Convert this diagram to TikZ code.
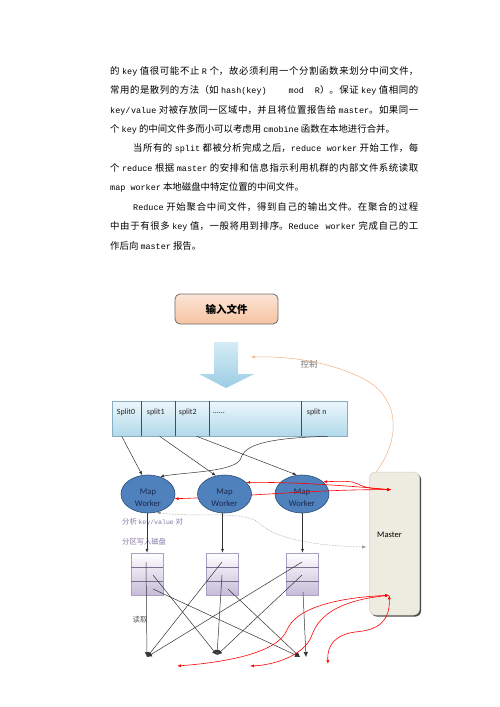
\documentclass[tikz,border=0pt]{standalone}
\usepackage{fontspec}
\setmainfont{Noto Sans CJK SC}
\newfontfamily\lmonofont{Liberation Mono}[Scale=0.9]
\newfontfamily\carl{Carlito}
\usetikzlibrary{shapes.geometric,arrows.meta,calc,shadows}
\XeTeXlinebreaklocale "zh"
\XeTeXlinebreakskip=0pt plus 1.5pt
\newcommand\lw[1]{{\lmonofont #1}}
\definecolor{inputtop}{HTML}{FCE4D5}
\definecolor{inputbot}{HTML}{F6C3A2}
\definecolor{inputborder}{HTML}{6E6E6E}
\definecolor{arrowtop}{HTML}{D6ECF6}
\definecolor{arrowbot}{HTML}{9BCDE4}
\definecolor{bartop}{HTML}{EDF7FB}
\definecolor{barbot}{HTML}{B2D9EA}
\definecolor{barborder}{HTML}{86AFC6}
\definecolor{mwfill}{HTML}{4F81BD}
\definecolor{mwborder}{HTML}{2C4D75}
\definecolor{mwtext}{HTML}{1B2A4E}
\definecolor{masterfill}{HTML}{EEECE1}
\definecolor{masterborder}{HTML}{D0CFC6}
\definecolor{stackbot}{HTML}{C6BCD9}
\definecolor{stackborder}{HTML}{A9A0C2}
\definecolor{stackdiv}{HTML}{7A7092}
\definecolor{ctrlcol}{HTML}{F4B183}
\definecolor{notepurple}{HTML}{8576A6}
\begin{document}
\begin{tikzpicture}[x=1bp,y=-1bp,
  sarrow/.style={draw=black!80, line width=0.5bp, -{Latex[length=4bp,width=3bp]}},
  rdarrow/.style={draw=black!80, line width=0.5bp, -{Latex[length=5bp,width=4.5bp]}},
  rarrow/.style={draw=red, line width=0.6bp, {Latex[length=4bp,width=3bp]}-{Latex[length=4bp,width=3bp]}},
  mwnode/.style={ellipse, draw=mwborder, line width=0.6bp, fill=mwfill, minimum width=54bp, minimum height=38bp, inner sep=0pt,
    label={[align=center, text=mwtext, font=\carl\fontsize{8.7bp}{11.5bp}\selectfont, yshift=-3.5bp]center:Map\\Worker}},
  stacknode/.style={rectangle, minimum width=32bp, minimum height=42bp, inner sep=0pt, top color=white, bottom color=stackbot, draw=stackborder, line width=0.5bp},
  stackdivline/.style={draw=stackdiv, line width=1bp},
  splitlabel/.style={anchor=west, inner sep=0pt, font=\carl\fontsize{8bp}{10bp}\selectfont, text=black!85},
  note/.style={inner sep=0pt, text=notepurple, font=\fontsize{7.3bp}{9bp}\selectfont},
  bardiv/.style={draw=black!70, line width=0.5bp}
]
\useasboundingbox (0,0) rectangle (500,707);
\fill[white] (0,0) rectangle (500,707);

% ---------- text ----------
\node[anchor=north west, inner sep=0pt, text width=308bp, align=justify,
      font=\fontsize{9.4bp}{19.45bp}\selectfont] (para) at (110,66) {%
的 \lw{key} 值很可能不止 \lw{R} 个，故必须利用一个分割函数来划分中间文件，\linebreak
常用的是散列的方法（如 \lw{hash(key)}\hspace{22bp}\lw{mod}\hspace{11bp}\lw{R}）。保证 \lw{key} 值相同的\linebreak
\lw{key/value} 对被存放同一区域中，并且将位置报告给 \lw{master}。如果同一\linebreak
个 \lw{key} 的中间文件多而小可以考虑用 \lw{cmobine} 函数在本地进行合并。\par
\hspace*{23bp}当所有的 \lw{split} 都被分析完成之后，\lw{reduce}\hspace{3bp} \lw{worker} 开始工作，每\linebreak
个 \lw{reduce} 根据 \lw{master} 的安排和信息指示利用机群的内部文件系统读取\linebreak
\lw{map worker} 本地磁盘中特定位置的中间文件。\par
\hspace*{23bp}\lw{Reduce} 开始聚合中间文件，得到自己的输出文件。在聚合的过程\linebreak
中由于有很多 \lw{key} 值，一般将用到排序。\lw{Reduce}\hspace{4bp} \lw{worker} 完成自己的工\linebreak
作后向 \lw{master} 报告。\par};

% ---------- input box and block arrow ----------
\node[rectangle, rounded corners=5bp, minimum width=103bp, minimum height=30bp, inner sep=0pt,
      top color=inputtop, bottom color=inputbot, draw=inputborder, line width=0.8bp,
      font=\bfseries\fontsize{10.5bp}{12bp}\selectfont] (input) at (226.5,309) {输入文件};
\shade[top color=arrowtop, bottom color=arrowbot]
  (214,342) -- (238,342) -- (238,374) -- (254,374) -- (226,388) -- (199,374) -- (214,374) -- cycle;

\node[inner sep=0pt, text=black!55, font=\fontsize{8.5bp}{10bp}\selectfont] (ctrl) at (309,364) {控制};

% ---------- split bar ----------
\node[rectangle, minimum width=235bp, minimum height=35bp, inner sep=0pt,
      top color=bartop, bottom color=barbot, draw=barborder, line width=0.6bp] (bar) at (229.5,418.5) {};
\foreach \dx in {30,64,98,190}
  \draw[bardiv] ($(bar.north west)+(\dx,0)$) -- ($(bar.south west)+(\dx,0)$);
\node[splitlabel] (l0) at ($(bar.north west)+(5,12)$) {Split0};
\node[splitlabel] (l1) at ($(bar.north west)+(35,12)$) {split1};
\node[splitlabel] (l2) at ($(bar.north west)+(67,12)$) {split2};
\node[splitlabel] (ld) at ($(bar.north west)+(101,12)$) {......};
\node[splitlabel] (ln) at ($(bar.north west)+(195,12)$) {split n};

% ---------- master ----------
\node[rectangle, rounded corners=6bp, minimum width=50bp, minimum height=143bp, inner sep=0pt,
      fill=masterfill, draw=masterborder, line width=0.5bp,
      drop shadow={shadow xshift=1.6bp, shadow yshift=-1.6bp, fill=black!70, opacity=1},
      label={[xshift=-5bp, yshift=8.5bp, font=\carl\fontsize{8.5bp}{10bp}\selectfont]center:Master}]
      (master) at (394.5,543.5) {};
\coordinate (mt) at ($(master.north west)+(22,18)$);
\coordinate (mb) at ($(master.south west)+(20,-20)$);

% ---------- map workers (mw2 drawn later, above red lines) ----------
\node[mwnode] (mw1) at (148,494) {};
\node[mwnode] (mw3) at (302,494) {};
\path (224.5,494) coordinate (mw2c);
\node[ellipse, minimum width=54bp, minimum height=38bp, inner sep=0pt] (mw2) at (mw2c) {};

% red lines master <-> map workers
\draw[rarrow] (mw3.30) .. controls (345,481) and (352,481) .. (358,484) .. controls (365,488) and (375,489) .. (mt);
\draw[rarrow] (mw2.28) .. controls (290,482) and (340,485) .. (mt);
\draw[rarrow] (mw1.-10) .. controls (240,497) and (320,489) .. (mt);

\node[mwnode] (mw2b) at (mw2c) {};

% control curve
\coordinate (ctrlend) at (251,357);
\draw[draw=ctrlcol, line width=0.5bp, -{Latex[length=4bp,width=3bp]}]
  ($(master.north west)+(7,0)$) .. controls (400,440) and (402,398) .. (362,378)
  .. controls (330,362) and (290,356) .. (ctrlend);

% split -> map worker arrows
\draw[sarrow] ($(bar.south west)+(10,0)$) -- (mw1.107);
\draw[sarrow] ($(bar.south west)+(48,0)$) -- (mw2.115);
\draw[sarrow] ($(bar.south west)+(85,0)$) -- (mw3.105);
\draw[sarrow] ($(bar.south west)+(216,0)$) .. controls (270,438) and (245,444) .. (241,458)
  .. controls (237,472) and (185,472) .. (mw1.55);

% gray dotted curve
\draw[draw=black!45, line width=0.5bp, densely dotted, {Latex[length=4bp,width=3bp]}-{Latex[length=4bp,width=3bp]}]
  (mw1.-65) .. controls (195,518) and (240,510) .. (258,522)
  .. controls (275,540) and (320,546) .. ($(master.west)+(-3,3.5)$);

\node[note, anchor=west] (n1) at (122,522) {分析 \lw{key/value} 对};
\node[note, anchor=west] (n2) at (122,542) {分区写入磁盘};

% ---------- stacks ----------
\node[stacknode] (st1) at (147,574) {};
\node[stacknode] (st2) at (222.5,574) {};
\node[stacknode] (st3) at (302.5,574) {};
\foreach \s in {st1,st2,st3}{
  \draw[stackdivline] ($(\s.west)+(0,-7)$) -- ($(\s.east)+(0,-7)$);
  \draw[stackdivline] ($(\s.west)+(0,7)$) -- ($(\s.east)+(0,7)$);
}
\draw[sarrow] (st1.north |- mw1.south) -- (st1.north);
\draw[sarrow] (st2.north |- mw2.south) -- (st2.north);
\draw[sarrow] (st3.north |- mw3.south) -- (st3.north);

\node[inner sep=0pt, text=black!65, font=\fontsize{7.5bp}{9bp}\selectfont] (readlbl) at (140,620) {读取};

% ---------- reduce lines ----------
\coordinate (r1) at (147,657);
\coordinate (r2) at (217,655);
\coordinate (r3) at (300,657);
\coordinate (r3b) at (306,657);
\draw[rdarrow] ($(st1)+(-1,-12)$) -- (r1);
\draw[rdarrow] ($(st1)+(6,1)$) -- (r2);
\draw[rdarrow] ($(st1)+(6,15)$) -- (r3);
\draw[rdarrow] ($(st2)+(-0.5,-12)$) -- (r1);
\draw[rdarrow] ($(st2)+(-0.5,1)$) -- (r2);
\draw[rdarrow] ($(st2)+(5.5,15)$) -- (r3);
\draw[rdarrow] ($(st3)+(-0.5,-12)$) -- (r1);
\draw[rdarrow] ($(st3)+(-0.5,1)$) -- (r2);
\draw[rdarrow] ($(st3)+(0.5,18)$) -- (r3b);

% ---------- red lines master <-> reduce ----------
\coordinate (q1) at (177,666);
\coordinate (q2) at (250,666);
\coordinate (q3) at (328,664);
\draw[rarrow] (mb) .. controls (330,598) and (295,610) .. (287,630) .. controls (278,652) and (230,662) .. (q1);
\draw[rarrow] (mb) .. controls (345,600) and (320,612) .. (312,635) .. controls (305,655) and (275,665) .. (q2);
\draw[rarrow] (mb) .. controls (390,620) and (380,630) .. (355,632) .. controls (335,635) and (327,645) .. (q3);
\end{tikzpicture}
\end{document}
